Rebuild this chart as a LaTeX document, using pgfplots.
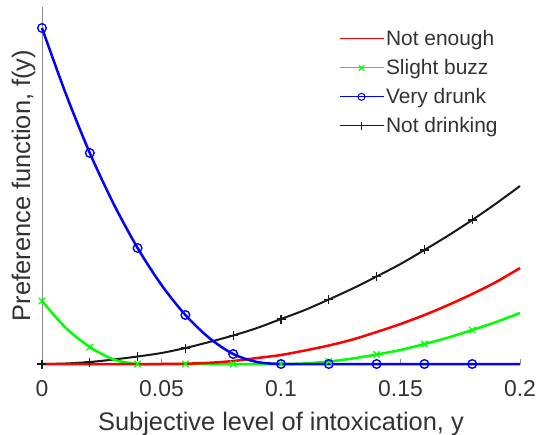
\documentclass[border=0pt]{standalone}
\usepackage{pgfplots}
\pgfplotsset{compat=1.18}
\usepackage{fontspec}
\setmainfont{Liberation Sans}
\definecolor{txt}{RGB}{50,50,50}
\definecolor{axc}{RGB}{140,140,140}
\definecolor{blk}{RGB}{25,25,25}
\definecolor{lred}{RGB}{255,0,0}
\begin{document}
\begin{tikzpicture}
\begin{axis}[
  at={(0,0)}, anchor=origin,
  scale only axis, width=478bp, height=357bp,
  xmin=0, xmax=0.2, ymin=0, ymax=357,
  axis x line=bottom, axis y line=left,
  axis line style={-, axc, line width=0.7bp},
  xtick={0,0.05,0.1,0.15,0.2},
  xticklabels={0,0.05,0.1,0.15,0.2},
  ytick=\empty,
  tick align=inside, major tick length=5bp,
  tick style={axc, line width=0.7bp},
  xticklabel style={font=\fontsize{23}{27}\selectfont, text=txt, anchor=base, yshift=-32bp},
  xlabel={Subjective level of intoxication, y},
  ylabel={Preference function, f(y)},
  xlabel style={at={(axis description cs:0.5,0)}, anchor=base, yshift=-66bp},
  ylabel style={at={(axis description cs:-0.0251,0.5)}, anchor=base},
  label style={font=\fontsize{25.5}{30}\selectfont, text=txt},
  clip=false,
  legend style={draw=none, fill=none, at={(0.621,0.94)}, anchor=north west,
    font=\fontsize{21}{25}\selectfont, text=txt, row sep=8.3bp, inner sep=0pt},
  legend cell align=left,
  legend image code/.code={\draw[mark repeat=2,mark phase=2,#1] plot coordinates {(0bp,0bp)(22bp,0bp)(44bp,0bp)};},
]
% Not drinking (black) line
\addplot[blk, line width=2bp, smooth, forget plot] coordinates {
(0,0)(0.01,0.5)(0.02,2)(0.03,4.5)(0.04,7.5)(0.05,11)(0.06,16)(0.07,22)(0.08,28.5)(0.09,36)(0.1,45)
(0.11,54)(0.12,64.5)(0.13,75.5)(0.14,87.5)(0.15,100)(0.16,114)(0.17,128.5)(0.18,144)(0.19,160.5)(0.2,178)};
\addplot[blk, only marks, mark=+, mark size=4.5bp, line width=1.3bp, forget plot] coordinates {
(0,0)(0.02,2)(0.04,7.5)(0.06,16)(0.08,28.5)(0.1,45)(0.12,64.5)(0.14,87.5)(0.16,114)(0.18,144)};
% Slight buzz (green) line
\addplot[green, line width=2.5bp, smooth, forget plot] coordinates {
(0,63)(0.01,36)(0.02,17)(0.03,4.5)(0.04,0)(0.05,0)(0.06,0)(0.07,0)(0.08,0)(0.09,0)(0.1,0)
(0.11,0.6)(0.12,2.5)(0.13,5.5)(0.14,9.5)(0.15,14)(0.16,20)(0.17,26.5)(0.18,34)(0.19,42)(0.2,51)};
% Not enough (red)
\addplot[lred, line width=2.5bp, smooth, forget plot] coordinates {
(0,0)(0.01,0)(0.02,0)(0.03,0)(0.04,0)(0.05,0)(0.06,0.3)(0.07,1.2)(0.08,3)(0.09,6)(0.1,9)
(0.11,13.5)(0.12,18.5)(0.13,24.5)(0.14,32)(0.15,40)(0.16,49)(0.17,59)(0.18,70)(0.19,82)(0.2,96)};
\addplot[green, only marks, mark=x, mark size=4.5bp, line width=1.3bp, forget plot] coordinates {
(0,63)(0.02,17)(0.04,0)(0.06,0)(0.08,0)(0.1,0)(0.12,2.5)(0.14,9.5)(0.16,20)(0.18,34)};
% Very drunk (blue)
\addplot[blue, line width=2.5bp, smooth, forget plot] coordinates {
(0,336)(0.01,270)(0.02,211)(0.03,160)(0.04,116)(0.05,79)(0.06,49)(0.07,26)(0.08,10)(0.09,2)(0.1,0)
(0.11,0)(0.12,0)(0.13,0)(0.14,0)(0.15,0)(0.16,0)(0.17,0)(0.18,0)(0.19,0)(0.2,0)};
\addplot[blue, only marks, mark=o, mark size=4.3bp, line width=1.4bp, forget plot] coordinates {
(0,336)(0.02,211)(0.04,116)(0.06,49)(0.08,10)(0.1,0)(0.12,0)(0.14,0)(0.16,0)(0.18,0)};
% legend
\addlegendimage{mark=none, draw=lred, line width=1bp}
\addlegendentry{Not enough}
\addlegendimage{color=green, line width=1bp, mark=x, mark size=4bp, mark options={line width=1bp}}
\addlegendentry{Slight buzz}
\addlegendimage{color=blue, line width=1bp, mark=o, mark size=3.5bp, mark options={line width=1bp}}
\addlegendentry{Very drunk}
\addlegendimage{color=blk, line width=1bp, mark=+, mark size=4bp, mark options={line width=1bp}}
\addlegendentry{Not drinking}
\end{axis}
\pgfresetboundingbox
\path[use as bounding box] (-42bp,-71bp) rectangle (495bp,364bp);
\end{tikzpicture}
\end{document}
